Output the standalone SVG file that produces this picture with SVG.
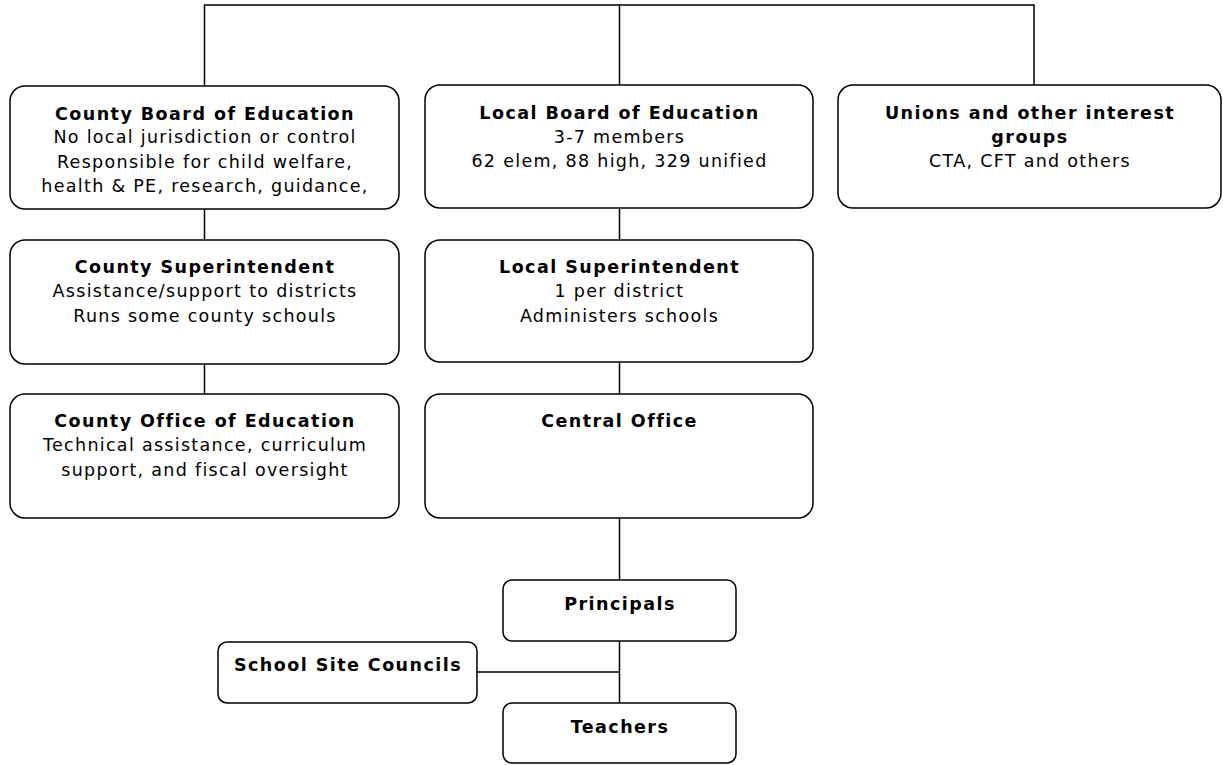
<svg xmlns="http://www.w3.org/2000/svg" width="1223" height="765" viewBox="0 0 1223 765">
<style>
.box{fill:#fff;stroke:#000;stroke-width:1.5}
.ln{fill:none;stroke:#000;stroke-width:1.5}
text{font-family:"DejaVu Sans",Verdana,sans-serif;font-size:17.5px;letter-spacing:1.3px;fill:#000;text-anchor:middle}
.b{font-weight:bold;letter-spacing:1.45px}
</style>
<rect width="1223" height="765" fill="#fff"/>
<g id="connectors">
<path class="ln" d="M204.5,86 V5 H1034 V86 M619.5,5 V85"/>
<path class="ln" d="M204.5,209 V240 M204.5,364 V394"/>
<path class="ln" d="M619.5,208 V240 M619.5,362 V394 M619.5,518 V580 M619.5,641 V703 M477,672 H619.5"/>
</g>
<g id="county-board">
<rect class="box" x="10" y="86" width="389" height="123" rx="15"/>
<text x="205" y="119.5" class="b">County Board of Education</text>
<text x="205" y="143">No local jurisdiction or control</text>
<text x="205" y="167.5">Responsible for child welfare,</text>
<text x="205" y="192">health &amp; PE, research, guidance,</text>
</g>
<g id="local-board">
<rect class="box" x="425" y="85" width="388" height="123" rx="15"/>
<text x="619.5" y="118.5" class="b">Local Board of Education</text>
<text x="619.5" y="143">3-7 members</text>
<text x="619.5" y="167">62 elem, 88 high, 329 unified</text>
</g>
<g id="unions">
<rect class="box" x="838" y="85" width="383" height="123" rx="15"/>
<text x="1030" y="118.5" class="b">Unions and other interest</text>
<text x="1030" y="143" class="b">groups</text>
<text x="1030" y="167">CTA, CFT and others</text>
</g>
<g id="county-superintendent">
<rect class="box" x="10" y="240" width="389" height="124" rx="15"/>
<text x="205" y="273" class="b">County Superintendent</text>
<text x="205" y="297">Assistance/support to districts</text>
<text x="205" y="321.5">Runs some county schouls</text>
</g>
<g id="local-superintendent">
<rect class="box" x="425" y="240" width="388" height="122" rx="15"/>
<text x="619.5" y="273" class="b">Local Superintendent</text>
<text x="619.5" y="297">1 per district</text>
<text x="619.5" y="321.5">Administers schools</text>
</g>
<g id="county-office">
<rect class="box" x="10" y="394" width="389" height="124" rx="15"/>
<text x="205" y="427" class="b">County Office of Education</text>
<text x="205" y="451">Technical assistance, curriculum</text>
<text x="205" y="475.5">support, and fiscal oversight</text>
</g>
<g id="central-office">
<rect class="box" x="425" y="394" width="388" height="124" rx="15"/>
<text x="619.5" y="427" class="b">Central Office</text>
</g>
<g id="principals">
<rect class="box" x="503" y="580" width="233" height="61" rx="9"/>
<text x="620" y="610" class="b">Principals</text>
</g>
<g id="school-site-councils">
<rect class="box" x="218" y="642" width="259" height="61" rx="9"/>
<text x="348" y="671" class="b">School Site Councils</text>
</g>
<g id="teachers">
<rect class="box" x="503" y="703" width="233" height="60" rx="9"/>
<text x="620" y="733" class="b">Teachers</text>
</g>
</svg>
